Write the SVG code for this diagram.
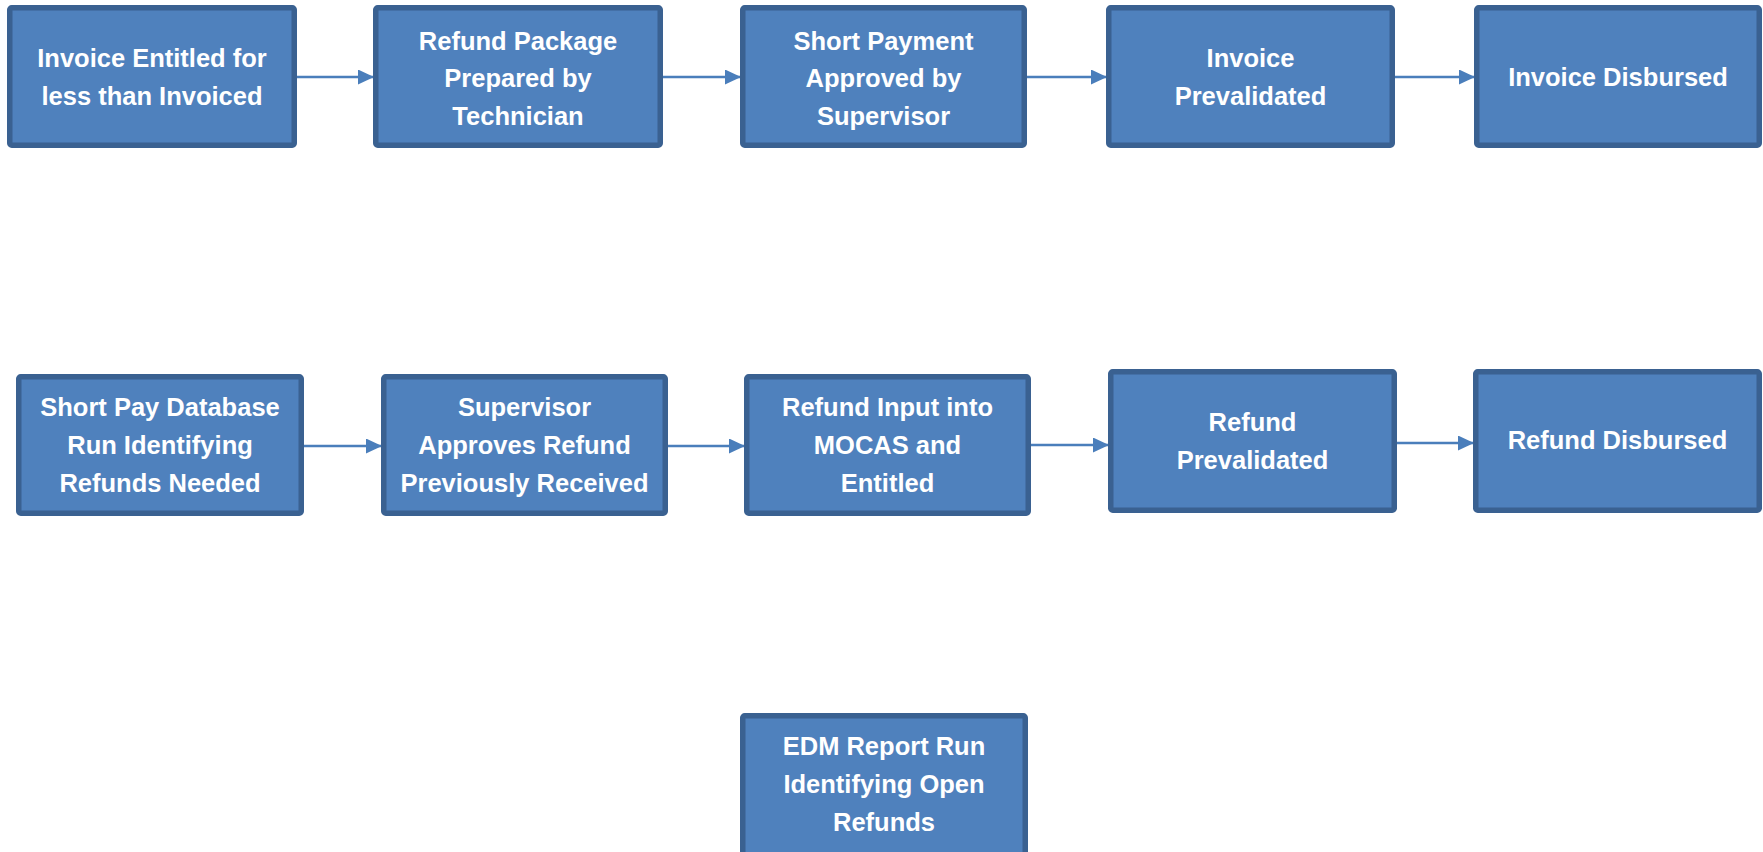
<svg xmlns="http://www.w3.org/2000/svg" width="1763" height="852" viewBox="0 0 1763 852">
<style>
.box{fill:#4F81BD;stroke:#3A6191;stroke-width:5.5}
.t{font-family:"Liberation Sans",Arial,sans-serif;font-weight:bold;font-size:25.5px;fill:#FFFFFF;text-anchor:middle}
.c{stroke:#4A7EBB;stroke-width:2.5;fill:none;marker-end:url(#ah)}
</style>
<defs>
<marker id="ah" markerUnits="userSpaceOnUse" markerWidth="16" markerHeight="16" refX="16" refY="7.5" orient="auto">
<path d="M0,0 L16,7.5 L0,15 Z" fill="#4A7EBB"/>
</marker>
</defs>
<rect width="1763" height="852" fill="#FFFFFF"/>
<g id="connectors">
<path class="c" d="M297,77 L374,77"/>
<path class="c" d="M663,77 L741,77"/>
<path class="c" d="M1027,77 L1107,77"/>
<path class="c" d="M1395,77 L1475,77"/>
<path class="c" d="M304,446 L382,446"/>
<path class="c" d="M668,446 L745,446"/>
<path class="c" d="M1031,445 L1109,445"/>
<path class="c" d="M1397,443 L1474,443"/>
</g>
<g id="n1"><rect class="box" x="9.75" y="7.75" width="284.5" height="137.5" rx="2"/>
<text class="t" x="152" y="67">Invoice Entitled for</text><text class="t" x="152" y="104.5">less than Invoiced</text></g>
<g id="n2"><rect class="box" x="375.75" y="7.75" width="284.5" height="137.5" rx="2"/>
<text class="t" x="518" y="49.5">Refund Package</text><text class="t" x="518" y="87">Prepared by</text><text class="t" x="518" y="124.5">Technician</text></g>
<g id="n3"><rect class="box" x="742.75" y="7.75" width="281.5" height="137.5" rx="2"/>
<text class="t" x="883.5" y="49.5">Short Payment</text><text class="t" x="883.5" y="87">Approved by</text><text class="t" x="883.5" y="124.5">Supervisor</text></g>
<g id="n4"><rect class="box" x="1108.75" y="7.75" width="283.5" height="137.5" rx="2"/>
<text class="t" x="1250.5" y="67">Invoice</text><text class="t" x="1250.5" y="104.5">Prevalidated</text></g>
<g id="n5"><rect class="box" x="1476.75" y="7.75" width="282.5" height="137.5" rx="2"/>
<text class="t" x="1618" y="86">Invoice Disbursed</text></g>
<g id="n6"><rect class="box" x="18.75" y="376.75" width="282.5" height="136.5" rx="2"/>
<text class="t" x="160" y="416">Short Pay Database</text><text class="t" x="160" y="454">Run Identifying</text><text class="t" x="160" y="491.5">Refunds Needed</text></g>
<g id="n7"><rect class="box" x="383.75" y="376.75" width="281.5" height="136.5" rx="2"/>
<text class="t" x="524.5" y="416">Supervisor</text><text class="t" x="524.5" y="454">Approves Refund</text><text class="t" x="524.5" y="491.5">Previously Received</text></g>
<g id="n8"><rect class="box" x="746.75" y="376.75" width="281.5" height="136.5" rx="2"/>
<text class="t" x="887.5" y="416">Refund Input into</text><text class="t" x="887.5" y="454">MOCAS and</text><text class="t" x="887.5" y="491.5">Entitled</text></g>
<g id="n9"><rect class="box" x="1110.75" y="371.75" width="283.5" height="138.5" rx="2"/>
<text class="t" x="1252.5" y="431">Refund</text><text class="t" x="1252.5" y="468.5">Prevalidated</text></g>
<g id="n10"><rect class="box" x="1475.75" y="371.75" width="283.5" height="138.5" rx="2"/>
<text class="t" x="1617.5" y="449">Refund Disbursed</text></g>
<g id="n11"><rect class="box" x="742.75" y="715.75" width="282.5" height="180" rx="2"/>
<text class="t" x="884" y="755">EDM Report Run</text><text class="t" x="884" y="793">Identifying Open</text><text class="t" x="884" y="830.5">Refunds</text></g>
</svg>
